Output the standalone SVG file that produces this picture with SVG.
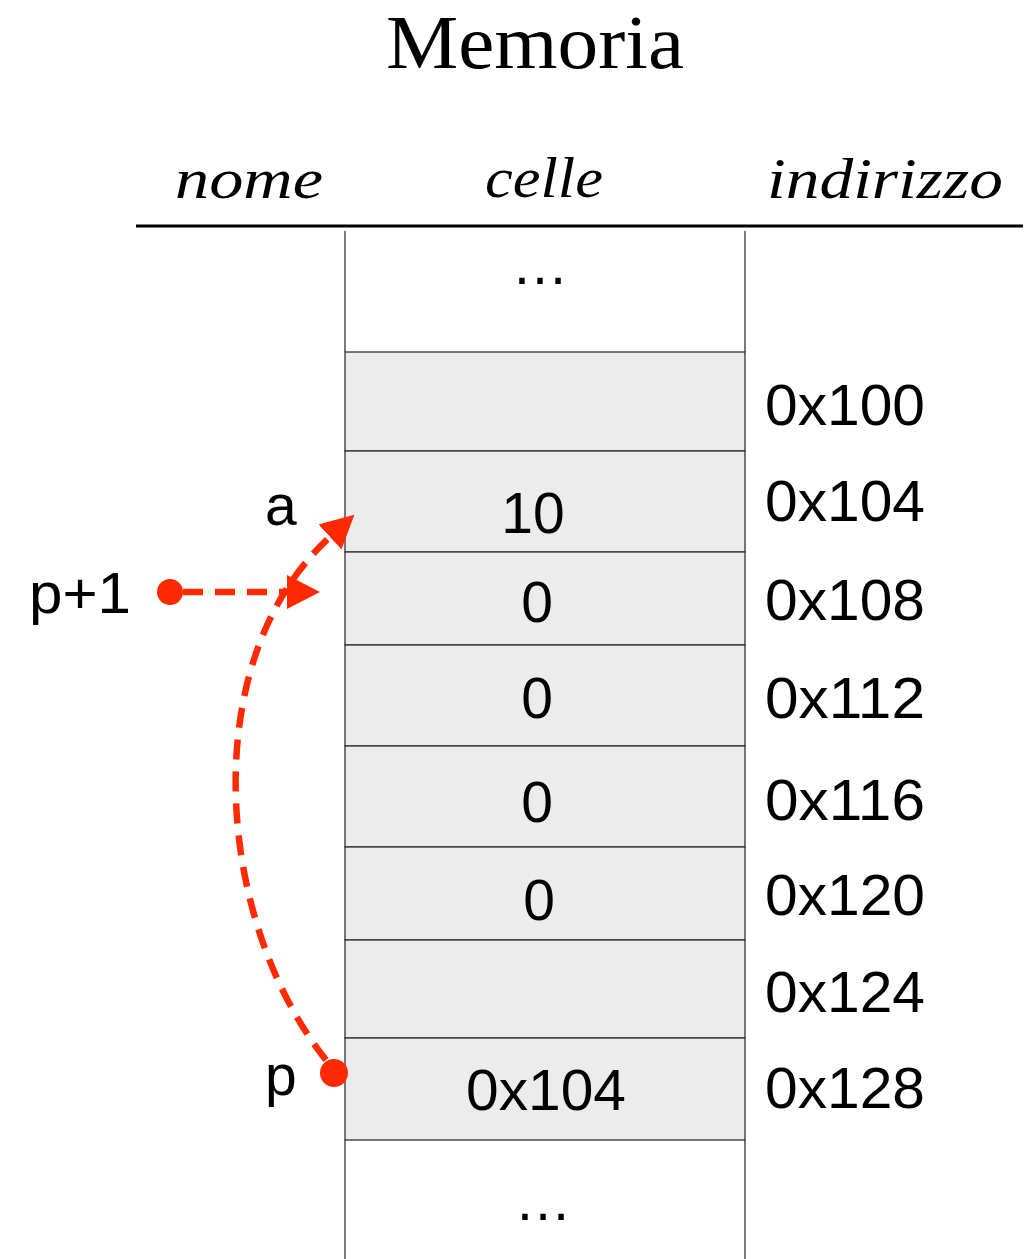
<svg xmlns="http://www.w3.org/2000/svg" width="1036" height="1259" viewBox="0 0 1036 1259">
<style>
.title{font-family:"Liberation Serif",serif;font-size:76px;fill:#000}
.hdr{font-family:"Liberation Serif",serif;font-style:italic;font-size:58px;fill:#000}
.t{font-family:"Liberation Sans",Arial,sans-serif;font-size:57px;fill:#000}
.c{text-anchor:middle}
.cell{fill:#ececec;stroke:#333;stroke-width:1.3}
.side{fill:none;stroke:#333;stroke-width:1.3}
.ptr{fill:none;stroke:#ff2a00;stroke-width:6.5;stroke-dasharray:20 12}
.dot{fill:#ff2a00}
</style>
<defs>
<marker id="ah" markerUnits="userSpaceOnUse" markerWidth="36" markerHeight="36" refX="0" refY="17" orient="auto" viewBox="0 0 36 36">
<path d="M0,0 L33,17 L0,34 z" fill="#ff2a00"/>
</marker>
</defs>
<text class="title c" x="535" y="68" textLength="298" lengthAdjust="spacingAndGlyphs">Memoria</text>
<g id="headers">
<text class="hdr" x="175" y="198" textLength="148" lengthAdjust="spacingAndGlyphs">nome</text>
<text class="hdr" x="485" y="197" textLength="118" lengthAdjust="spacingAndGlyphs">celle</text>
<text class="hdr" x="767" y="198" textLength="236" lengthAdjust="spacingAndGlyphs">indirizzo</text>
<line x1="136" y1="226" x2="1023" y2="226" stroke="#000" stroke-width="3"/>
</g>
<g id="cell-top">
<path class="side" d="M345,231 V352 M745,231 V352"/>
<text class="t c" x="540" y="284">…</text>
</g>
<g id="cell-0x100"><rect class="cell" x="345" y="352" width="400" height="99"/><text class="t" x="765" y="425" textLength="160" lengthAdjust="spacingAndGlyphs">0x100</text></g>
<g id="cell-0x104"><rect class="cell" x="345" y="451" width="400" height="101"/><text class="t c" x="533" y="533">10</text><text class="t" x="765" y="521" textLength="160" lengthAdjust="spacingAndGlyphs">0x104</text></g>
<g id="cell-0x108"><rect class="cell" x="345" y="552" width="400" height="93"/><text class="t c" x="537" y="622">0</text><text class="t" x="765" y="620" textLength="160" lengthAdjust="spacingAndGlyphs">0x108</text></g>
<g id="cell-0x112"><rect class="cell" x="345" y="645" width="400" height="101"/><text class="t c" x="537" y="718">0</text><text class="t" x="765" y="718" textLength="160" lengthAdjust="spacingAndGlyphs">0x112</text></g>
<g id="cell-0x116"><rect class="cell" x="345" y="746" width="400" height="101"/><text class="t c" x="537" y="822">0</text><text class="t" x="765" y="820" textLength="160" lengthAdjust="spacingAndGlyphs">0x116</text></g>
<g id="cell-0x120"><rect class="cell" x="345" y="847" width="400" height="93"/><text class="t c" x="539" y="920">0</text><text class="t" x="765" y="915" textLength="160" lengthAdjust="spacingAndGlyphs">0x120</text></g>
<g id="cell-0x124"><rect class="cell" x="345" y="940" width="400" height="98"/><text class="t" x="765" y="1012" textLength="160" lengthAdjust="spacingAndGlyphs">0x124</text></g>
<g id="cell-0x128"><rect class="cell" x="345" y="1038" width="400" height="102"/><text class="t" x="466" y="1110" textLength="160" lengthAdjust="spacingAndGlyphs">0x104</text><text class="t" x="765" y="1108" textLength="160" lengthAdjust="spacingAndGlyphs">0x128</text></g>
<g id="cell-bottom">
<path class="side" d="M345,1140 V1259 M745,1140 V1259"/>
<text class="t c" x="543" y="1220">…</text>
</g>
<g id="label-a"><text class="t" x="265" y="525">a</text></g>
<g id="label-p1"><text class="t" x="29" y="613" textLength="102" lengthAdjust="spacingAndGlyphs">p+1</text><circle class="dot" cx="170" cy="592" r="13"/></g>
<g id="label-p"><text class="t" x="265" y="1095">p</text><circle class="dot" cx="334" cy="1073" r="14"/></g>
<g id="connectors">
<path class="ptr" d="M183,592 H287" marker-end="url(#ah)"/>
<path class="ptr" d="M326,1060 C215,920 195,660 330,537" marker-end="url(#ah)"/>
</g>
</svg>
